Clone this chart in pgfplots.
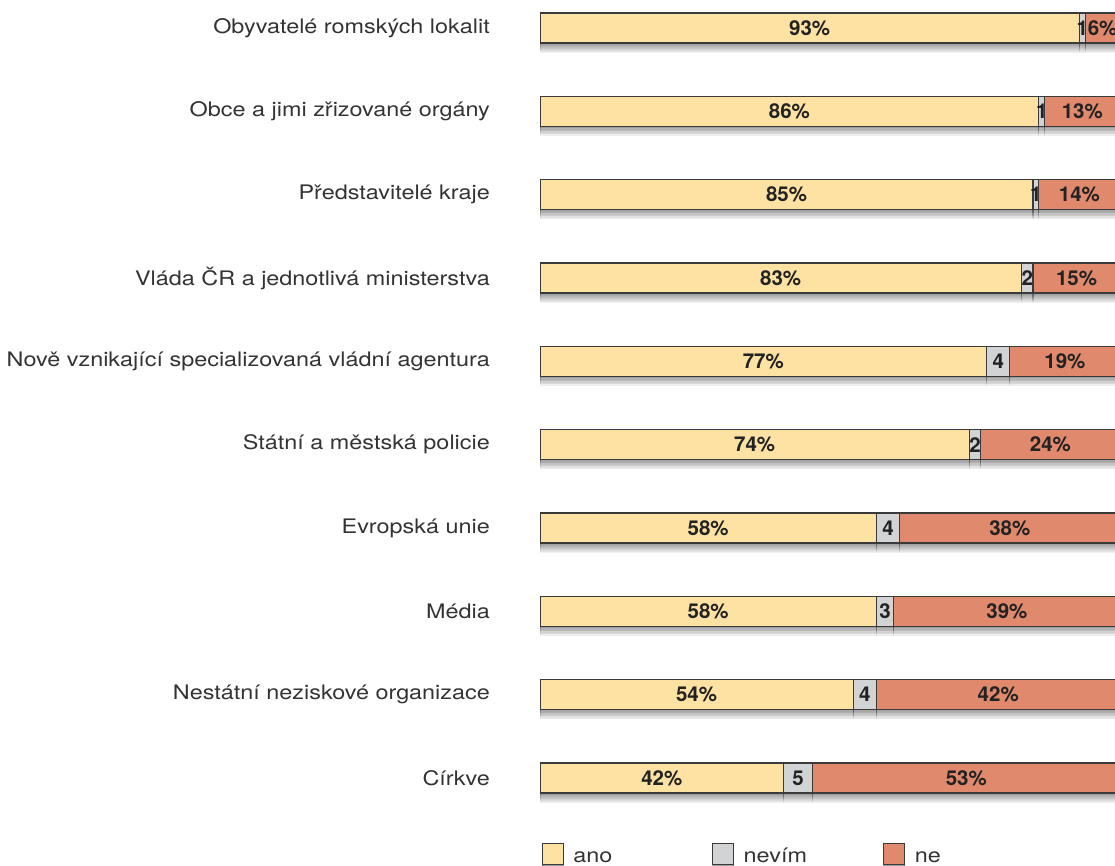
\documentclass[border=0pt]{standalone}
\usepackage{pgfplots}
\pgfplotsset{compat=1.18}
\usepackage{pgfplotstable}
\usepackage{fontspec}
\setmainfont{TeX Gyre Heros}
\newfontfamily\lblfont[FakeStretch=1.17]{TeX Gyre Heros}
\usetikzlibrary{shadows}
\definecolor{ano}{HTML}{FEE2A4}
\definecolor{nevim}{HTML}{D2D3D5}
\definecolor{ne}{HTML}{E0896D}
\definecolor{edge}{HTML}{3A3A3A}
\definecolor{lbl}{HTML}{333333}
\definecolor{val}{HTML}{222222}

\pgfplotstableread{
y ano nevim ne
0 93 1 6
1 86 1 13
2 85 1 14
3 83 2 15
4 77 4 19
5 74 2 24
6 58 4 38
7 58 3 39
8 54 4 42
9 42 5 53
}\data

% label positions (segment midpoints) and texts
\pgfplotstableread{
x y v
46.5 0 93
43 1 86
42.5 2 85
41.5 3 83
38.5 4 77
37 5 74
29 6 58
29 7 58
27 8 54
21 9 42
97 0 6
93.5 1 13
93 2 14
92.5 3 15
90.5 4 19
88 5 24
81 6 38
80.5 7 39
79 8 42
73.5 9 53
}\pct

\pgfplotstableread{
x y v
93.5 0 1
86.5 1 1
85.5 2 1
84 3 2
79 4 4
75 5 2
60 6 4
59.5 7 3
56 8 4
44.5 9 5
}\nev

\tikzset{barshadow/.style={
  drop shadow={shadow xshift=0pt,shadow yshift=-9pt,opacity=0.06,fill=black},
  drop shadow={shadow xshift=0pt,shadow yshift=-7.5pt,opacity=0.06,fill=black},
  drop shadow={shadow xshift=0pt,shadow yshift=-6pt,opacity=0.07,fill=black},
  drop shadow={shadow xshift=0pt,shadow yshift=-4.5pt,opacity=0.07,fill=black},
  drop shadow={shadow xshift=0pt,shadow yshift=-3pt,opacity=0.08,fill=black},
  drop shadow={shadow xshift=0pt,shadow yshift=-1.5pt,opacity=0.08,fill=black}}}

\newcommand{\legimg}[2]{\draw[fill=#1,draw=edge,line width=1pt] (0pt,-2pt) rectangle (21pt,19pt);
  \node[anchor=base west, inner sep=0pt, text=lbl, font=\lblfont\fontsize{20}{22}\selectfont] at (31pt,0pt) {#2};}

\pgfplotsset{geom/.style={
  at={(540pt,63pt)}, anchor=south west,
  scale only axis, width=580pt, height=800pt,
  xmin=0, xmax=100, ymin=-0.3, ymax=9.3, y dir=reverse}}

\begin{document}
\begin{tikzpicture}
\useasboundingbox (0,0) rectangle (1115pt,866pt);
\begin{axis}[geom,
  xbar stacked, bar width=30pt,
  axis line style={draw=none},
  xtick=\empty,
  ytick={0,...,9},
  major tick length=0pt,
  yticklabels={Obyvatelé romských lokalit,
    Obce a jimi zřizované orgány,
    Představitelé kraje,
    Vláda ČR a jednotlivá ministerstva,
    Nově vznikající specializovaná vládní agentura,
    Státní a městská policie,
    Evropská unie,
    Média,
    Nestátní neziskové organizace,
    Církve},
  yticklabel style={font=\lblfont\fontsize{20}{22}\selectfont, text=lbl, anchor=east, inner sep=0pt, xshift=-50pt},
  legend columns=3,
  legend style={draw=none, fill=none, inner sep=0pt, outer sep=0pt,
    at={(axis description cs:0.0034,-0.05)}, anchor=north west,
    nodes={inner sep=0pt}, /tikz/every even column/.append style={column sep=0pt},
    /tikz/every odd column/.append style={column sep=0pt}},
]
\addplot[fill=ano, draw=edge, line width=1.3pt, barshadow,
  legend image code/.code={\legimg{ano}{ano}\path (168pt,0pt);}] table[x=ano,y=y] {\data};
\addplot[fill=nevim, draw=edge, line width=1.3pt, barshadow,
  legend image code/.code={\legimg{nevim}{nevím}\path (169pt,0pt);}] table[x=nevim,y=y] {\data};
\addplot[fill=ne, draw=edge, line width=1.3pt, barshadow,
  legend image code/.code={\legimg{ne}{ne}\path (60pt,0pt);}] table[x=ne,y=y] {\data};
\addlegendentry{}
\addlegendentry{}
\addlegendentry{}
\end{axis}
\begin{axis}[geom, axis lines=none, clip=false]
\addplot[only marks, mark=none, point meta=explicit symbolic,
  nodes near coords={\pgfplotspointmeta\%},
  every node near coord/.append style={anchor=center, text=val, font=\bfseries\fontsize{20.5}{22}\selectfont}]
  table[x=x,y=y,meta=v] {\pct};
\addplot[only marks, mark=none, point meta=explicit symbolic,
  nodes near coords={\pgfplotspointmeta},
  every node near coord/.append style={anchor=center, text=val, font=\bfseries\fontsize{20.5}{22}\selectfont}]
  table[x=x,y=y,meta=v] {\nev};
\end{axis}
\end{tikzpicture}
\end{document}
